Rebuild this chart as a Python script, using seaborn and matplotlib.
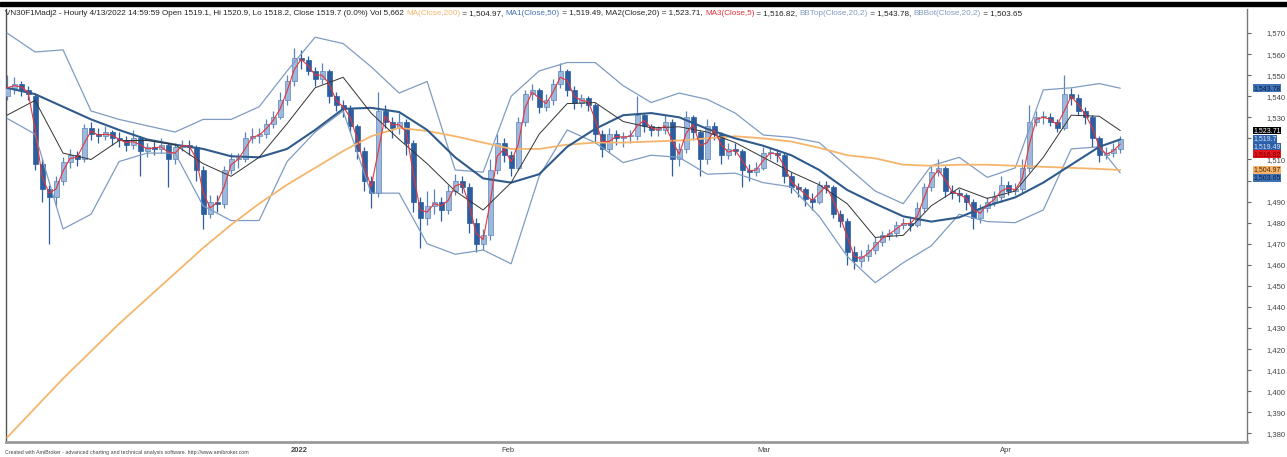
import numpy as np
import pandas as pd
import matplotlib
matplotlib.use("Agg")
import matplotlib.pyplot as plt
import matplotlib.transforms as mtransforms
from matplotlib.patches import Rectangle
from matplotlib.ticker import FuncFormatter
import seaborn as sns

# -------------------------------
# Price bars (each bar ~3 hourly bars of the original)
# -------------------------------
opens = [1540, 1544, 1546, 1543, 1540, 1508, 1496, 1492, 1500, 1509,
         1512, 1510, 1525, 1522, 1521, 1523, 1520, 1519, 1517, 1520,
         1514, 1516, 1515, 1517, 1510, 1516, 1517, 1516, 1505, 1484,
         1490, 1489, 1505, 1510, 1510, 1520, 1521, 1522, 1527, 1530,
         1538, 1547, 1558, 1557, 1552, 1548, 1552, 1540, 1536, 1534,
         1526, 1514, 1500, 1494, 1533, 1528, 1525, 1528, 1518, 1490,
         1482, 1488, 1490, 1486, 1495, 1500, 1497, 1480, 1470, 1474,
         1505, 1518, 1512, 1506, 1528, 1541, 1543, 1535, 1538, 1546,
         1552, 1543, 1537, 1539, 1536, 1522, 1515, 1522, 1520, 1521,
         1521, 1531, 1526, 1524, 1524, 1528, 1510, 1515, 1530, 1523,
         1510, 1526, 1522, 1512, 1515, 1514, 1505, 1504, 1506, 1513,
         1513, 1512, 1502, 1497, 1496, 1491, 1490, 1498, 1497, 1484,
         1481, 1466, 1462, 1464, 1467, 1471, 1474, 1475, 1479, 1480,
         1479, 1487, 1497, 1504, 1506, 1495, 1494, 1493, 1490, 1482,
         1487, 1490, 1492, 1498, 1495, 1496, 1506, 1528, 1530, 1530,
         1528, 1525, 1541, 1539, 1533, 1530, 1520, 1512, 1513, 1515]
highs = [1550, 1549, 1547, 1545, 1541, 1510, 1498, 1502, 1511, 1515,
         1514, 1527, 1528, 1525, 1526, 1524, 1523, 1521, 1524, 1521,
         1518, 1519, 1520, 1518, 1518, 1519, 1519, 1517, 1507, 1493,
         1493, 1507, 1513, 1513, 1523, 1525, 1525, 1529, 1533, 1542,
         1550, 1563, 1562, 1559, 1554, 1556, 1553, 1542, 1538, 1536,
         1527, 1516, 1502, 1542, 1536, 1530, 1532, 1529, 1519, 1492,
         1495, 1496, 1492, 1498, 1503, 1502, 1499, 1482, 1477, 1510,
         1522, 1520, 1514, 1530, 1543, 1546, 1544, 1541, 1548, 1556,
         1553, 1545, 1541, 1540, 1537, 1524, 1525, 1524, 1523, 1524,
         1540, 1532, 1527, 1526, 1531, 1529, 1518, 1533, 1531, 1524,
         1529, 1528, 1523, 1518, 1518, 1515, 1508, 1509, 1516, 1516,
         1515, 1513, 1504, 1499, 1497, 1494, 1500, 1500, 1498, 1486,
         1482, 1469, 1467, 1470, 1473, 1476, 1477, 1481, 1482, 1482,
         1490, 1499, 1507, 1510, 1507, 1498, 1496, 1494, 1491, 1489,
         1492, 1495, 1502, 1500, 1499, 1510, 1536, 1533, 1533, 1532,
         1529, 1550, 1544, 1541, 1535, 1531, 1521, 1516, 1518, 1520.9]
lows = [1538, 1541, 1540, 1538, 1505, 1490, 1470, 1488, 1498, 1506,
        1507, 1509, 1519, 1518, 1519, 1517, 1516, 1514, 1515, 1502,
        1511, 1512, 1513, 1497, 1508, 1514, 1512, 1500, 1477, 1482,
        1485, 1487, 1503, 1506, 1509, 1518, 1518, 1520, 1525, 1529,
        1536, 1545, 1553, 1550, 1545, 1546, 1537, 1533, 1530, 1523,
        1510, 1495, 1487, 1492, 1525, 1520, 1522, 1512, 1485, 1468,
        1479, 1484, 1481, 1484, 1493, 1494, 1475, 1466, 1467, 1472,
        1503, 1509, 1502, 1505, 1526, 1538, 1532, 1533, 1536, 1544,
        1540, 1534, 1535, 1533, 1518, 1511, 1513, 1517, 1516, 1518,
        1519, 1523, 1521, 1521, 1522, 1502, 1507, 1513, 1519, 1502,
        1508, 1519, 1508, 1510, 1512, 1497, 1500, 1502, 1505, 1510,
        1509, 1499, 1494, 1492, 1488, 1486, 1489, 1494, 1482, 1478,
        1460, 1458, 1459, 1462, 1465, 1469, 1472, 1473, 1477, 1476,
        1478, 1485, 1495, 1502, 1492, 1491, 1490, 1486, 1477, 1480,
        1485, 1488, 1490, 1493, 1493, 1494, 1504, 1526, 1527, 1526,
        1523, 1524, 1536, 1531, 1527, 1516, 1509, 1510, 1511, 1513]
closes = [1544, 1546, 1543, 1541, 1508, 1496, 1492, 1500, 1509, 1512,
          1510, 1525, 1522, 1521, 1523, 1520, 1519, 1517, 1520, 1514,
          1516, 1515, 1517, 1510, 1516, 1517, 1516, 1505, 1484, 1490,
          1489, 1505, 1510, 1510, 1520, 1521, 1522, 1527, 1530, 1538,
          1547, 1558, 1557, 1552, 1548, 1552, 1540, 1536, 1534, 1526,
          1514, 1500, 1494, 1533, 1528, 1525, 1528, 1518, 1490, 1482,
          1488, 1490, 1486, 1495, 1500, 1497, 1480, 1470, 1474, 1505,
          1518, 1512, 1506, 1528, 1541, 1543, 1535, 1538, 1546, 1552,
          1543, 1537, 1539, 1536, 1522, 1515, 1522, 1520, 1521, 1521,
          1531, 1526, 1524, 1524, 1528, 1510, 1515, 1530, 1523, 1510,
          1526, 1522, 1512, 1515, 1514, 1505, 1504, 1506, 1513, 1513,
          1512, 1502, 1497, 1496, 1491, 1490, 1498, 1497, 1484, 1481,
          1466, 1462, 1464, 1467, 1471, 1474, 1475, 1479, 1480, 1479,
          1487, 1497, 1504, 1506, 1495, 1494, 1493, 1490, 1482, 1487,
          1490, 1492, 1498, 1495, 1496, 1506, 1528, 1530, 1530, 1528,
          1525, 1541, 1539, 1533, 1530, 1520, 1512, 1513, 1515, 1519.7]

# -------------------------------
# Indicator lines, read every 4th bar
# -------------------------------
line_bars = list(range(0, 157, 4)) + [159]
ma200 = [1378, 1392, 1406, 1419, 1432, 1444, 1456, 1468, 1479, 1489,
         1498, 1506, 1514, 1521, 1525, 1523.5, 1521, 1518, 1515, 1515,
         1517, 1518, 1518, 1518.5, 1519, 1520, 1521, 1520, 1518.5, 1515.5,
         1512, 1510.5, 1507.5, 1507, 1507.5, 1507.5, 1507, 1506.5, 1506, 1505.5,
         1505]
ma50 = [1544, 1541, 1535, 1529, 1524, 1519.5, 1517, 1515, 1511.5, 1511,
        1515, 1524, 1534, 1534.5, 1532.5, 1524, 1511, 1501, 1499, 1503,
        1516, 1524.5, 1531, 1532, 1530, 1524.5, 1520, 1516.5, 1512, 1505,
        1495.5, 1489, 1483, 1480.5, 1482.5, 1488, 1492, 1499, 1507.5, 1516,
        1519.5]
ma20 = [1531, 1538, 1513, 1510, 1519, 1519, 1517, 1508, 1502, 1511,
        1527, 1544, 1549, 1532, 1519.5, 1508, 1495, 1486, 1499, 1522,
        1536.5, 1537, 1528, 1525, 1525.5, 1523, 1518, 1511, 1504, 1498,
        1489, 1473, 1474, 1488, 1496.5, 1491.5, 1495, 1511, 1531, 1530.5,
        1523.7]
bb_top = [1570, 1561, 1562, 1533, 1529, 1526, 1523, 1529, 1529, 1535,
          1552, 1568, 1565, 1554, 1541.5, 1547, 1505, 1504, 1540, 1552,
          1556, 1556, 1545, 1537, 1541.5, 1538.5, 1532, 1521.6, 1520.5, 1518,
          1506.5, 1495, 1489, 1507, 1511, 1501.5, 1506, 1543, 1544, 1546,
          1543.8]
bb_bot = [1529.5, 1522, 1477, 1484, 1509, 1513, 1513, 1488, 1481, 1481,
          1509, 1523, 1533, 1494, 1494, 1470, 1465, 1467, 1460.5, 1502,
          1524, 1518, 1508.5, 1512, 1511, 1503, 1503.5, 1499, 1497, 1483,
          1464, 1451.5, 1461, 1469, 1484, 1480.5, 1480, 1486, 1515, 1516,
          1503.6]

month_bars = [40.3, 70.3, 106.9, 141.6]
month_labels = ["2022", "Feb", "Mar", "Apr"]
y_ticks = list(range(1380, 1571, 10))
hidden_ticks = [1520, 1500]   # covered by the value tags in the original

# last-value tags on the right axis
tag_values = [1543.78, 1523.71, 1519.7, 1519.49, 1516.82, 1504.97, 1503.65]
tag_texts = ["1,543.78", "1,523.71", "1,519.7", "1,519.49", "1,516.82", "1,504.97", "1,503.65"]
tag_fill = ["#3f72b5", "#000000", "#2f63ad", "#2a5ea8", "#e3141c", "#f6b26b", "#3f72b5"]
tag_ink = ["#0b1f45", "#ffffff", "#d6e4f7", "#d6e4f7", "#7a0000", "#4a2a00", "#0b1f45"]
tag_shift = [0, 0, 0, 7, 9, 0, 5]

# colours
c_ma200 = "#f5b56d"
c_ma50 = "#2f5b8c"
c_ma20 = "#333333"
c_ma5 = "#e8343a"
c_bb = "#7f9cc2"
c_up = "#9db8dc"
c_up_edge = "#5b84ba"
c_down = "#2c5d9f"

# -------------------------------
# Build figure
# -------------------------------
sns.set_theme(style="white")
plt.rcParams["font.family"] = ["Liberation Sans", "DejaVu Sans"]

fig = plt.figure(figsize=(12.87, 4.57), dpi=100)
ax = fig.add_axes([6 / 1287, 15 / 457, 1241 / 1287, 433 / 457])

bars = pd.DataFrame({"bar": np.arange(len(closes)), "open": opens,
                     "high": highs, "low": lows, "close": closes})
up = bars["close"] >= bars["open"]
body_low = bars[["open", "close"]].min(axis=1)
body_h = (bars["close"] - bars["open"]).abs().clip(lower=0.7)

ax.vlines(bars["bar"], bars["low"], bars["high"],
          colors=np.where(up, c_up_edge, c_down), linewidth=0.9, zorder=2)
ax.bar(bars["bar"], body_h, bottom=body_low, width=0.72,
       color=np.where(up, c_up, c_down), edgecolor=np.where(up, c_up_edge, c_down),
       linewidth=0.5, zorder=3)

lines = pd.DataFrame({"bar": line_bars, "ma200": ma200, "ma50": ma50,
                      "ma20": ma20, "bb_top": bb_top, "bb_bot": bb_bot})
sns.lineplot(data=lines, x="bar", y="bb_top", ax=ax, color=c_bb, linewidth=0.9, zorder=4)
sns.lineplot(data=lines, x="bar", y="bb_bot", ax=ax, color=c_bb, linewidth=0.9, zorder=4)
sns.lineplot(data=lines, x="bar", y="ma200", ax=ax, color=c_ma200, linewidth=1.3, zorder=4)
sns.lineplot(data=lines, x="bar", y="ma50", ax=ax, color=c_ma50, linewidth=1.5, zorder=5)
sns.lineplot(data=lines, x="bar", y="ma20", ax=ax, color=c_ma20, linewidth=0.7, zorder=5)

bars["ma5"] = bars["close"].rolling(2, min_periods=1).mean()
sns.lineplot(data=bars, x="bar", y="ma5", ax=ax, color=c_ma5, linewidth=0.8, zorder=6)

ax.set_xlim(-0.15, 177.1)
ax.set_ylim(1375.9, 1581.4)
ax.set_xlabel("")
ax.set_ylabel("")

# axes frame
ax.spines["top"].set_visible(False)
ax.spines["left"].set_color("#555555")
ax.spines["left"].set_linewidth(1.0)
ax.spines["bottom"].set_color("#9a9a9a")
ax.spines["bottom"].set_linewidth(2.0)
ax.spines["right"].set_color("#777777")
ax.spines["right"].set_linewidth(1.0)

# right price axis
ax.yaxis.tick_right()
ax.set_yticks(y_ticks)
ax.yaxis.set_major_formatter(
    FuncFormatter(lambda v, p: "" if round(v) in hidden_ticks else f"{v:,.0f}"))
ax.tick_params(axis="y", direction="out", length=3, width=0.8, pad=11,
               labelsize=5.5, color="#666666", labelcolor="#444444")

# month markers
ax.set_xticks(month_bars)
ax.set_xticklabels(month_labels)
ax.tick_params(axis="x", direction="out", length=3, width=0.6, pad=0.5,
               labelsize=5.5, color="#666666", labelcolor="#444444")
shift = mtransforms.ScaledTranslation(2 / 100, 0, fig.dpi_scale_trans)
for lbl in ax.get_xticklabels():
    lbl.set_horizontalalignment("left")
    lbl.set_transform(lbl.get_transform() + shift)
    if lbl.get_text() == "2022":
        lbl.set_fontweight("bold")

# last-value tags
for val, txt, fc, ink, sh in zip(tag_values, tag_texts, tag_fill, tag_ink, tag_shift):
    ax.annotate(txt, xy=(1, val), xycoords=("axes fraction", "data"),
                xytext=(6, -sh), textcoords="offset pixels", ha="left", va="center",
                fontsize=5.0, color=ink, annotation_clip=False, zorder=10,
                bbox=dict(boxstyle="square,pad=0.06", fc=fc, ec="none"))

# title line with coloured indicator names
pieces = [
    ("VN30F1Madj2 - Hourly 4/13/2022 14:59:59 Open 1519.1, Hi 1520.9, Lo 1518.2, "
     "Close 1519.7 (0.0%) Vol 5,662 ", "#222222"),
    ("MA(Close,200)", c_ma200),
    (" = 1,504.97, ", "#222222"),
    ("MA1(Close,50)", "#3f72b5"),
    (" = 1,519.49, MA2(Close,20) = 1,523.71, ", "#222222"),
    ("MA3(Close,5)", c_ma5),
    (" = 1,516.82, ", "#222222"),
    ("BBTop(Close,20,2)", "#7f9cc2"),
    (" = 1,543.78, ", "#222222"),
    ("BBBot(Close,20,2)", "#7f9cc2"),
    (" = 1,503.65", "#222222"),
]
prev = fig.text(5 / 1287, 1 - 17 / 457, pieces[0][0], color=pieces[0][1],
                fontsize=5.9, ha="left", va="bottom")
for txt, col in pieces[1:]:
    prev = ax.annotate(txt, xy=(1, 0), xycoords=prev, xytext=(0, 0),
                       textcoords="offset points", ha="left", va="bottom",
                       fontsize=5.9, color=col, annotation_clip=False)

# top black bar and footer
fig.add_artist(Rectangle((0, 1 - 6 / 457), 1, 4 / 457, transform=fig.transFigure,
                         color="black", zorder=20))
fig.text(5 / 1287, 1 - 455 / 457,
         "Created with AmiBroker - advanced charting and technical analysis software. "
         "http://www.amibroker.com", fontsize=3.8, color="#444444", ha="left", va="bottom")

fig.savefig("out.png", dpi=100)
